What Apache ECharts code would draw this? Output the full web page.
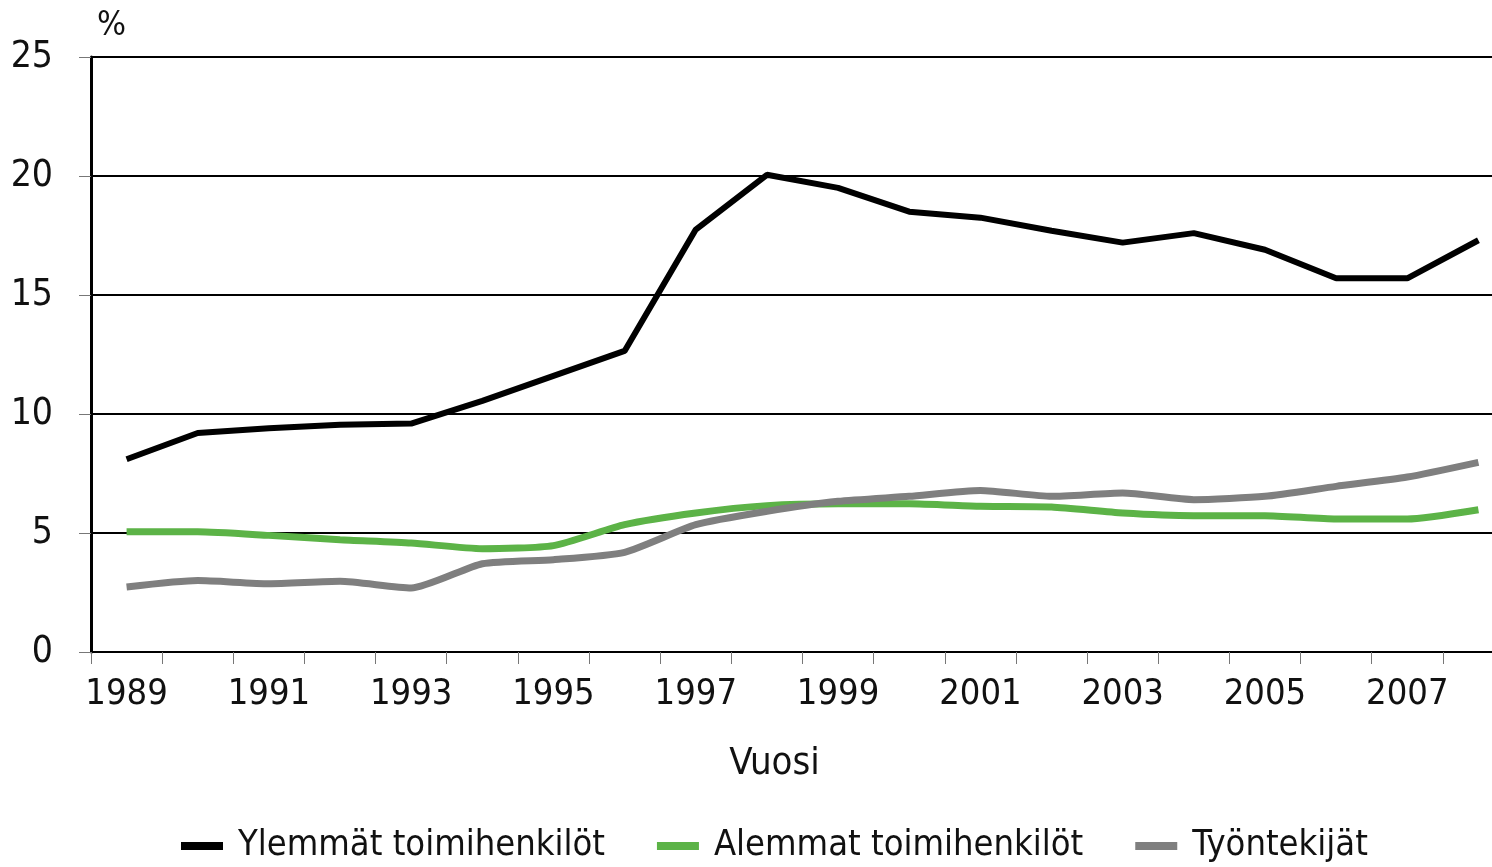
<!DOCTYPE html>
<html>
<head>
<meta charset="utf-8">
<script src="https://cdn.jsdelivr.net/npm/echarts@6/dist/echarts.min.js"></script>
<style>
html,body{margin:0;padding:0;background:#fff;}
#chart{width:1492px;height:867px;}
</style>
</head>
<body>
<div id="chart"></div>
<script>
var years = ['1989','1990','1991','1992','1993','1994','1995','1996','1997','1998','1999','2000','2001','2002','2003','2004','2005','2006','2007','2008'];
var ylemmat = [8.1, 9.2, 9.4, 9.55, 9.6, 10.55, 11.6, 12.65, 17.75, 20.05, 19.5, 18.5, 18.25, 17.7, 17.2, 17.6, 16.9, 15.7, 15.7, 17.3];
var alemmat = [5.05, 5.05, 4.9, 4.72, 4.58, 4.34, 4.47, 5.35, 5.84, 6.15, 6.23, 6.23, 6.12, 6.09, 5.84, 5.73, 5.73, 5.59, 5.59, 5.98];
var tyontekijat = [2.73, 3.0, 2.87, 2.97, 2.69, 3.71, 3.88, 4.19, 5.35, 5.91, 6.33, 6.54, 6.79, 6.54, 6.68, 6.4, 6.54, 6.96, 7.35, 7.97];
var seriesNames = ['Ylemmät toimihenkilöt', 'Alemmat toimihenkilöt', 'Työntekijät'];
var yTicks = [0, 5, 10, 15, 20, 25];

var FONT = "'Liberation Sans Narrow','DejaVu Sans Condensed','Liberation Sans',Arial,sans-serif";
var chart = echarts.init(document.getElementById('chart'), null, {renderer: 'canvas'});
chart.setOption({
  backgroundColor: '#ffffff',
  animation: false,
  grid: {left: 91, top: 57, width: 1423, bottom: 215, containLabel: false, outerBoundsMode: 'none'},
  legend: {
    left: 176, top: 823,
    itemWidth: 42, itemHeight: 8, itemGap: 52,
    icon: 'rect',
    data: seriesNames,
    textStyle: {fontFamily: FONT, fontSize: 36, color: '#111', padding: [0, 0, 0, 10]}
  },
  xAxis: {
    type: 'category',
    data: years,
    boundaryGap: true,
    name: 'Vuosi',
    nameLocation: 'middle',
    nameGap: 93,
    nameTextStyle: {fontFamily: FONT, fontSize: 38, color: '#111', padding: [0, 56, 0, 0]},
    axisLine: {lineStyle: {color: '#000', width: 2}},
    axisTick: {show: true, interval: 0, length: 12, lineStyle: {color: '#777', width: 1}},
    axisLabel: {interval: 1, margin: 25, fontFamily: FONT, fontSize: 36, color: '#111'},
    splitLine: {show: false}
  },
  yAxis: {
    type: 'value',
    min: yTicks[0], max: yTicks[yTicks.length - 1], interval: 5,
    name: '%',
    nameLocation: 'end',
    nameGap: 14,
    nameTextStyle: {fontFamily: FONT, fontSize: 34, color: '#111', align: 'left', padding: [0, 0, 0, 6]},
    axisLine: {show: true, lineStyle: {color: '#000', width: 3}},
    axisTick: {show: true, length: 12, lineStyle: {color: '#777', width: 1}},
    axisLabel: {margin: 38, fontFamily: FONT, fontSize: 37, color: '#111'},
    splitLine: {show: true, lineStyle: {color: '#000', width: 2}}
  },
  series: [
    {name: seriesNames[0], type: 'line', data: ylemmat, showSymbol: false, symbol: 'none',
     color: '#000000', lineStyle: {color: '#000000', width: 6}},
    {name: seriesNames[1], type: 'line', data: alemmat, showSymbol: false, symbol: 'none', smooth: 0.2,
     color: '#5cb347', lineStyle: {color: '#5cb347', width: 7}},
    {name: seriesNames[2], type: 'line', data: tyontekijat, showSymbol: false, symbol: 'none', smooth: 0.2,
     color: '#7f7f7f', lineStyle: {color: '#7f7f7f', width: 7}}
  ]
});
</script>
</body>
</html>
